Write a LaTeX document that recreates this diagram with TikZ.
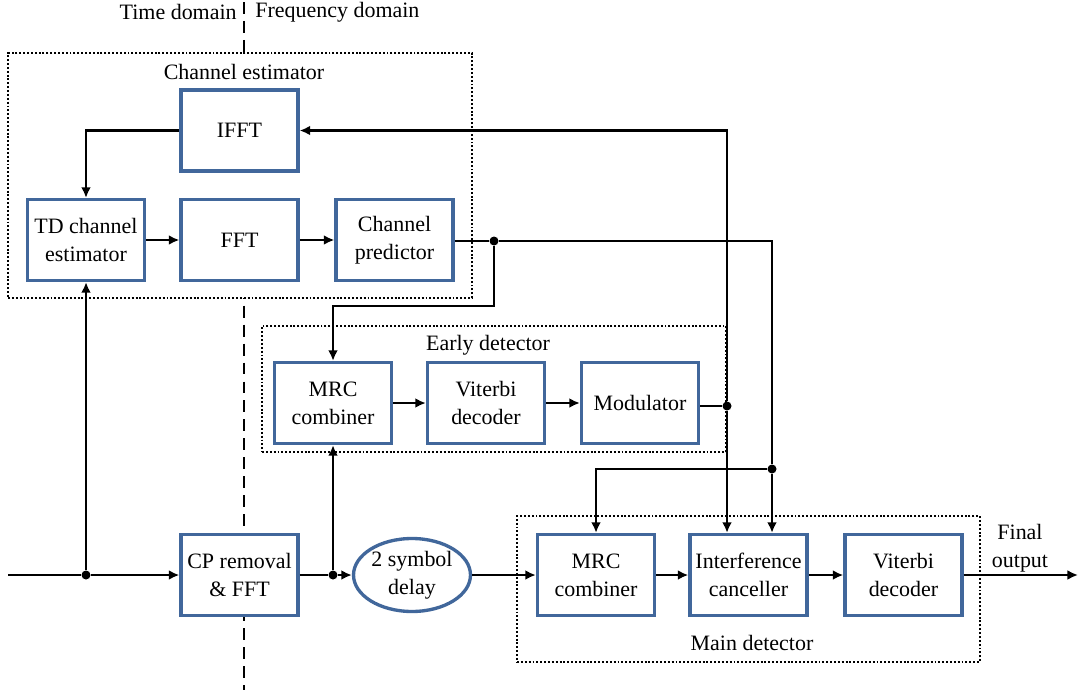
\documentclass[tikz,border=0pt]{standalone}
\usepackage{fontspec}
\setmainfont{Liberation Serif}
\usetikzlibrary{arrows.meta,shapes.geometric}
\definecolor{boxblue}{RGB}{65,103,155}
\begin{document}
\begin{tikzpicture}[x=0.02cm,y=-0.02cm,
  font=\fontsize{12.5}{16}\selectfont,
  blk/.style={draw=boxblue,line width=1.9pt,fill=white,minimum width=2.34cm,minimum height=1.62cm,align=center,inner sep=1pt},
  ell/.style={ellipse,draw=boxblue,line width=1.9pt,fill=white,minimum width=2.34cm,minimum height=1.46cm,align=center,inner sep=0pt},
  region/.style={draw,line width=1.3pt,dash pattern=on 1.1pt off 1.1pt,fill=white,inner sep=0pt},
  dashline/.style={line width=1.4pt,dash pattern=on 6.8pt off 4pt},
  conn/.style={line width=1.5pt},
  arr/.style={conn,-{Latex[length=6pt,width=5.6pt]}},
  dotn/.style={circle,fill,inner sep=0pt,minimum size=0.18cm},
  lbl/.style={inner sep=0pt}
]
\useasboundingbox (0,0) rectangle (1078,693);

% domain divider
\coordinate (dtop) at (244,2);
\coordinate (dbot) at (244,690);
\draw[dashline] (dtop) -- (dbot);
\node[lbl,anchor=east] (tdom) at (237,12) {Time domain};
\node[lbl,anchor=west] (fdom) at (255,12) {Frequency domain};

% regions
\node[region,minimum width=9.28cm,minimum height=4.9cm] (ce) at (240,175.5) {};
\node[region,minimum width=9.28cm,minimum height=2.52cm] (ed) at (494,389) {};
\node[region,minimum width=9.26cm,minimum height=2.92cm] (md) at (748.5,589) {};
\node[lbl] (celbl) at (244,72) {Channel estimator};
\node[lbl] (edlbl) at (488,345) {Early detector};
\node[lbl] (mdlbl) at (752,643) {Main detector};

% blocks
\node[blk] (ifft) at (239.5,130.5) {IFFT};
\node[blk] (tdce) at (86,240) {TD channel\\estimator};
\node[blk] (fft)  at (239.5,240) {FFT};
\node[blk] (cpred) at (394.5,240) {Channel\\predictor};
\node[blk] (mrc1) at (333,403) {MRC\\combiner};
\node[blk] (vit1) at (486,403) {Viterbi\\decoder};
\node[blk] (mod)  at (640,403) {Modulator};
\node[blk] (cpr)  at (239.5,575) {CP removal\\\& FFT};
\node[ell] (delay) at (412,575) {2 symbol\\delay};
\node[blk] (mrc2) at (596,575) {MRC\\combiner};
\node[blk] (ic)   at (748.5,575) {Interference\\canceller};
\node[blk] (vit2) at (903.5,575) {Viterbi\\decoder};
\node[lbl,align=center] (fout) at (1020,548.5) {Final\\output};

% junctions
\node[dotn] (d1) at (86,575) {};
\node[dotn] (d2) at (333,575) {};
\node[dotn] (d3) at (494,241) {};
\node[dotn] (d4) at (772,469) {};
\node[dotn] (d5) at (727,406) {};
\coordinate (in) at (8,575);
\coordinate (out) at (1078,575);
\coordinate (c1) at (772,241);
\coordinate (c2) at (494,306);

% connectors
\draw[conn] (in) -- (d1);
\draw[arr] (d1) -- (cpr);
\draw[arr] (d1) -- (d1 |- tdce.south);
\draw[conn] (cpr) -- (d2);
\draw[arr] (d2) -- (delay);
\draw[arr] (d2) -- (d2 |- mrc1.south);
\draw[arr] (delay) -- (mrc2);
\draw[arr] (mrc2) -- (ic);
\draw[arr] (ic) -- (vit2);
\draw[arr] (vit2) -- (out);

\draw[arr] (ifft.west) -| (tdce.north);
\draw[arr] (tdce) -- (fft);
\draw[arr] (fft) -- (cpred);
\draw[conn] (cpred.east |- d3) -- (d3);
\draw[conn] (d3) -- (c1) -- (d4);
\draw[arr] (d4) -- (d4 |- ic.north);
\draw[arr] (d4) -| (mrc2.north);
\draw[arr] (d3) -- (c2) -| (mrc1.north);

\draw[arr] (mrc1) -- (vit1);
\draw[arr] (vit1) -- (mod);
\draw[conn] (mod.east |- d5) -- (d5);
\draw[arr] (d5) |- (ifft.east);
\draw[arr] (d5) -- (d5 |- ic.north);
\end{tikzpicture}
\end{document}
